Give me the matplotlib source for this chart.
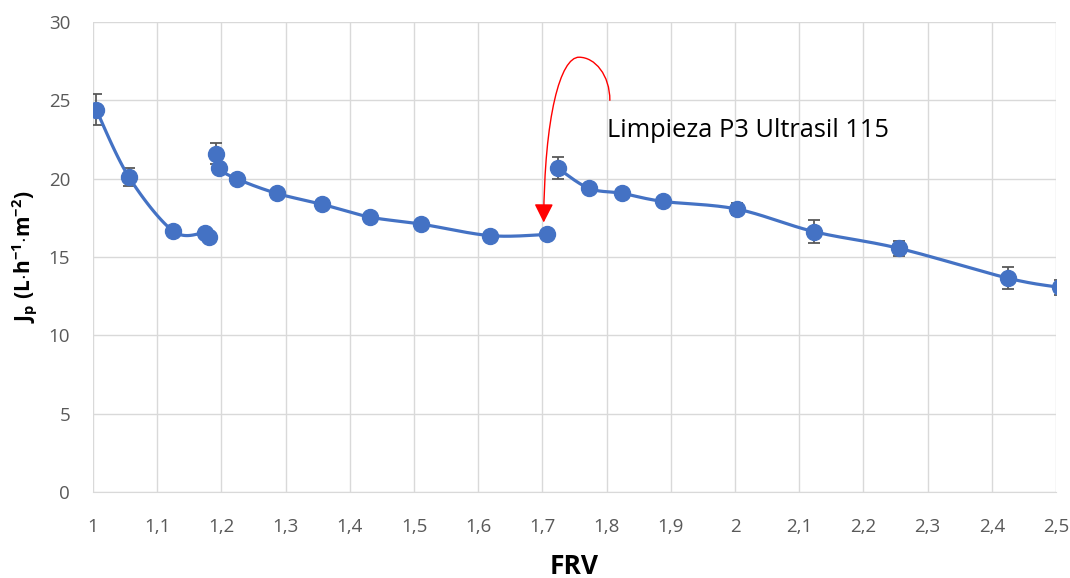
import numpy as np
import matplotlib
matplotlib.use("Agg")
import matplotlib.pyplot as plt
from matplotlib.path import Path
from matplotlib.patches import FancyArrowPatch
from matplotlib.ticker import FuncFormatter

plt.rcParams['font.family'] = ['Open Sans', 'DejaVu Sans']
plt.rcParams['mathtext.fontset'] = 'custom'
plt.rcParams['mathtext.rm'] = 'Open Sans'
plt.rcParams['mathtext.bf'] = 'Open Sans:bold'
plt.rcParams['mathtext.it'] = 'Open Sans:italic'

# Permeate flux vs. volume reduction factor, three filtration stages
frv_a = [1.005, 1.056, 1.125, 1.1745, 1.181]
jp_a = [24.4, 20.1, 16.65, 16.53, 16.3]
err_a = [1.0, 0.6, 0.3, 0.2, 0.2]

frv_b = [1.1916, 1.196, 1.225, 1.286, 1.357, 1.431, 1.511, 1.619, 1.707]
jp_b = [21.6, 20.66, 19.97, 19.06, 18.36, 17.55, 17.1, 16.36, 16.44]
err_b = [0.65, 0.3, 0.2, 0.2, 0.2, 0.2, 0.2, 0.2, 0.2]

frv_c = [1.724, 1.7726, 1.8245, 1.887, 2.0027, 2.1236, 2.2555, 2.4257, 2.506]
jp_c = [20.66, 19.38, 19.06, 18.55, 18.06, 16.61, 15.55, 13.64, 13.06]
err_c = [0.7, 0.2, 0.2, 0.2, 0.4, 0.74, 0.5, 0.69, 0.5]

x_ticks = np.round(np.arange(1.0, 2.51, 0.1), 1)
y_ticks = [0, 5, 10, 15, 20, 25, 30]

blue = '#4472C4'
grey = '#595959'


def smooth(xs, ys, n=30):
    """Catmull-Rom style Bezier smoothing through the points."""
    p = np.column_stack([xs, ys]).astype(float)
    if len(p) < 3:
        return p[:, 0], p[:, 1]
    ext = np.vstack([p[0], p, p[-1]])
    out = []
    t = np.linspace(0, 1, n)[:, None]
    for i in range(1, len(ext) - 2):
        p0, p1, p2, p3 = ext[i - 1], ext[i], ext[i + 1], ext[i + 2]
        c1 = p1 + (p2 - p0) / 6.0
        c2 = p2 - (p3 - p1) / 6.0
        seg = ((1 - t) ** 3) * p1 + 3 * ((1 - t) ** 2) * t * c1 + 3 * (1 - t) * t ** 2 * c2 + t ** 3 * p2
        out.append(seg if i == 1 else seg[1:])
    out = np.vstack(out)
    return out[:, 0], out[:, 1]


fig = plt.figure(figsize=(10.70, 5.78), dpi=100)
ax = fig.add_axes([0.0869, 0.1488, 0.9001, 0.8132])

for xs, ys, es in [(frv_a, jp_a, err_a), (frv_b, jp_b, err_b), (frv_c, jp_c, err_c)]:
    sx, sy = smooth(xs, ys)
    ax.plot(sx, sy, color=blue, lw=2.3, zorder=3, solid_capstyle='round')
    ax.errorbar(xs, ys, yerr=es, fmt='none', ecolor=grey, elinewidth=1.3,
                capsize=4, capthick=1.3, zorder=2)
    ax.plot(xs, ys, 'o', color=blue, ms=11.5, zorder=4)

ax.set_xlim(1.0, 2.5)
ax.set_ylim(0, 30)
ax.set_xticks(x_ticks)
ax.set_yticks(y_ticks)
ax.xaxis.set_major_formatter(FuncFormatter(lambda v, _: f"{v:.1f}".rstrip('0').rstrip('.').replace('.', ',')))
ax.grid(True, color='#D9D9D9', lw=1.0, zorder=0)
ax.set_axisbelow(True)
for s in ['top', 'right', 'left']:
    ax.spines[s].set_visible(False)
ax.spines['bottom'].set_color('#D9D9D9')
ax.tick_params(length=0, labelsize=13.5, labelcolor=grey)
ax.tick_params(axis='x', pad=19)
ax.tick_params(axis='y', pad=16.5)

ax.set_xlabel('FRV', fontsize=19, fontweight='bold', labelpad=12)
ax.set_ylabel(r'$\mathbf{J_p\ (L{\cdot}h^{-1}{\cdot}m^{-2})}$', fontsize=15, labelpad=7)

# Cleaning annotation with curved red arrow
verts = [(1.805, 25.0), (1.805, 26.6), (1.782, 27.75), (1.757, 27.75),
         (1.728, 27.75), (1.703, 24.0), (1.702, 17.2)]
codes = [Path.MOVETO, Path.CURVE4, Path.CURVE4, Path.CURVE4,
         Path.CURVE4, Path.CURVE4, Path.CURVE4]
arrow = FancyArrowPatch(path=Path(verts, codes), arrowstyle='-|>,head_length=11.5,head_width=5.8',
                        color='red', lw=1.0, zorder=5)
ax.add_patch(arrow)
ax.text(1.8006, 22.65, 'Limpieza P3 Ultrasil 115', fontsize=18.3, color='black',
        ha='left', va='baseline', zorder=5)

fig.savefig('out.png', dpi=100)
